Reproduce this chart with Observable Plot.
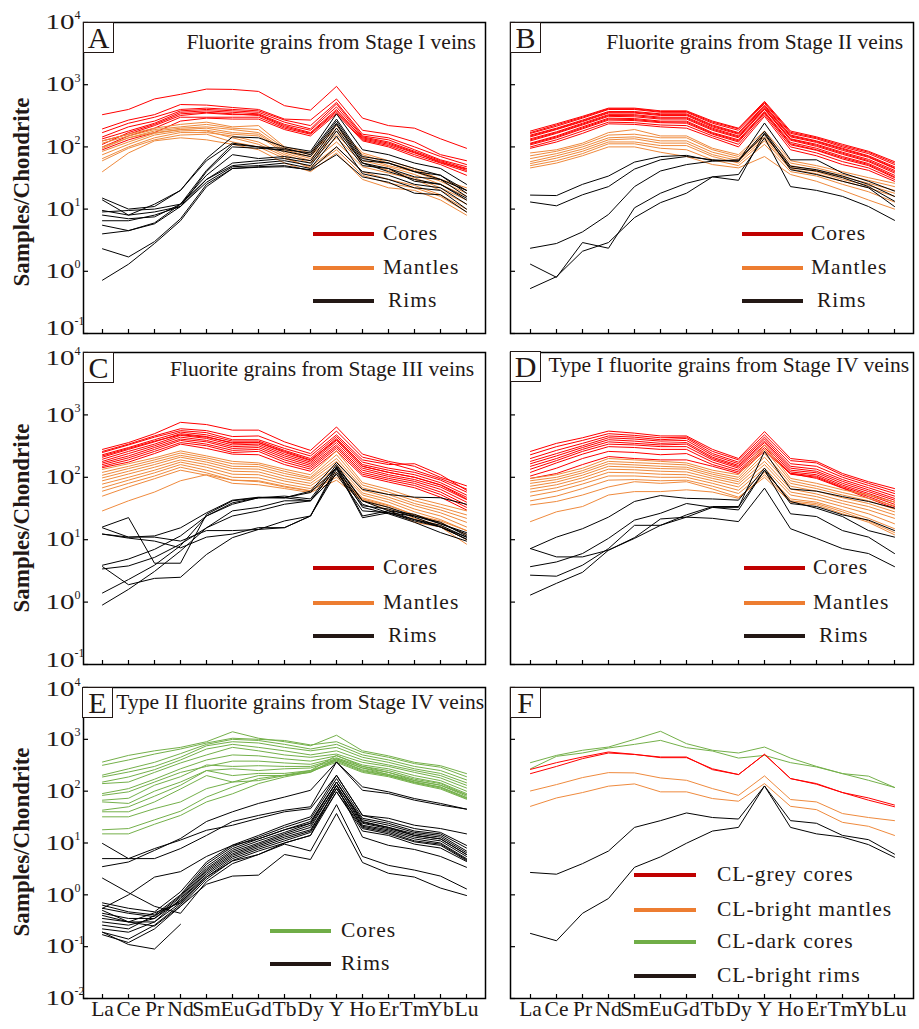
<!DOCTYPE html>
<html><head><meta charset="utf-8">
<script src="https://cdn.jsdelivr.net/npm/d3@7"></script>
<script src="https://cdn.jsdelivr.net/npm/@observablehq/plot@0.6"></script>
<style>
body{margin:0;background:#fff;}
#fig{position:relative;width:919px;height:1029px;background:#fff;font-family:"Liberation Serif","Times New Roman",serif;color:#231815;overflow:hidden}
#fig svg{position:absolute;background:transparent;overflow:visible}
.title{position:absolute;font-size:21.5px;line-height:21.5px;white-space:nowrap;}
.letter{position:absolute;width:31px;height:31px;border:1.2px solid #231815;box-sizing:border-box;font-size:30px;line-height:30px;text-align:center;background:#fff}
.leg{position:absolute;height:4px}
.legt{position:absolute;font-size:21.5px;line-height:21.5px;letter-spacing:1px;white-space:nowrap;transform:translateY(-50%)}
.ylab{position:absolute;font-size:23px;font-weight:bold;white-space:nowrap;transform:translate(-50%,-50%) rotate(-90deg)}
</style></head>
<body><div id="fig"></div>
<script>
const REE = ["La","Ce","Pr","Nd","Sm","Eu","Gd","Tb","Dy","Y","Ho","Er","Tm","Yb","Lu"];
const yTicksAD = [0.1, 1, 10, 100, 1000, 10000];
const yExpAD = ["-1", "0", "1", "2", "3", "4"];
const yTicksEF = [0.01, 0.1, 1, 10, 100, 1000, 10000];
const yExpEF = ["-2", "-1", "0", "1", "2", "3", "4"];

// ---------- Panel A ----------
const A_cores = [
[330,400,590,700,850,840,780,460,390,940,290,220,200,135,95],
[195,270,330,480,470,430,400,280,270,590,185,160,120,75,60],
[170,240,300,400,420,400,380,270,220,520,160,140,100,70,52],
[145,210,260,380,400,380,360,250,195,490,150,130,90,62,48],
[135,180,240,360,380,360,340,230,185,440,145,120,85,60,45],
[125,160,220,320,350,330,330,220,170,400,135,110,80,58,42],
[100,150,200,300,300,300,300,200,160,360,130,105,75,55,40],
[90,130,170,260,290,280,280,190,150,340,125,100,70,52,35],
[110,170,230,340,360,340,320,210,165,380,140,115,82,56,44]];
const A_mantles = [
[125,160,200,230,250,210,220,100,80,220,80,60,45,30,22],
[115,150,190,210,230,200,190,95,75,200,75,55,42,30,20],
[95,140,180,200,210,190,170,90,70,180,68,50,40,28,18],
[85,120,165,190,200,170,160,85,65,160,60,48,36,25,16],
[75,110,155,180,185,160,150,80,60,140,55,42,32,22,14],
[65,100,140,170,170,150,120,75,55,120,48,38,30,20,12],
[60,95,130,155,160,120,100,65,48,100,40,30,24,17,10],
[40,80,125,140,130,110,90,55,40,80,30,22,20,14,8],
[100,140,170,190,180,140,110,70,45,90,35,26,22,16,9]];
const A_rims = [
[15,10,11,20,65,145,140,100,85,340,90,75,55,45,25],
[9.5,8,12,20,60,115,100,95,75,260,65,55,40,30,20],
[9,9.5,10,12,42,110,100,85,70,240,60,55,40,35,18],
[8,7,7.5,12,35,75,65,70,60,230,55,45,33,30,16],
[6.5,6.5,8,11,30,55,60,65,55,200,55,40,30,25,15],
[5.5,4.5,6,12,30,50,55,60,50,180,50,45,28,25,14],
[4,4.5,5.8,11,27,48,50,55,45,150,37,30,22,20,10],
[2.3,1.7,3,7,25,45,48,50,42,75,33,27,18,17,9],
[0.72,1.3,2.8,6.5,23,45,47,48,43,100,40,35,25,22,12],
[14,8,9,11,40,100,95,90,80,280,70,60,45,35,20]];

// ---------- Panel B ----------
const B_cores = [
[180,235,310,420,420,380,380,260,200,540,180,145,110,85,58],
[165,215,290,400,400,360,360,240,185,500,165,135,100,78,52],
[155,200,270,370,370,340,340,225,170,470,155,125,95,72,48],
[145,190,255,350,350,320,320,210,160,440,145,118,88,68,45],
[135,175,240,330,330,300,300,200,150,420,135,110,82,63,42],
[125,165,225,310,305,280,280,185,140,400,128,102,76,58,38],
[115,150,210,290,285,260,260,170,130,370,118,95,70,54,35],
[108,140,195,270,265,245,240,160,120,350,108,88,64,50,32],
[100,130,180,250,245,225,220,150,110,330,100,80,58,46,30],
[95,120,165,235,230,210,200,140,100,310,90,72,52,42,28],
[170,225,300,410,410,370,370,250,195,520,172,140,105,82,55],
[150,195,262,360,360,330,330,218,165,455,150,122,92,70,46],
[130,170,232,320,318,290,290,192,145,410,132,106,79,60,40],
[112,145,202,280,275,252,250,165,125,360,112,90,67,52,33]];
const B_mantles = [
[80,90,115,170,190,150,150,95,75,180,60,50,40,32,26],
[72,85,108,155,160,140,140,90,70,160,55,46,36,29,23],
[65,78,100,140,145,125,125,82,65,145,50,42,33,26,20],
[58,72,92,130,135,115,115,75,60,135,47,40,30,24,18],
[54,66,85,120,120,105,105,70,55,125,44,37,28,22,16],
[50,60,78,112,112,95,90,62,50,110,40,34,25,19,13],
[46,55,72,100,100,82,70,52,46,70,36,28,20,14,10]];
const B_rims = [
[16.8,16.5,25,34,57,70,73,60,59,242,62,62,38,28,19.5],
[13,11.3,17,23,44,62,70,62,59,178,49,43,34,25,16],
[2.35,2.8,4.3,8.2,23,41,52,59,62,158,46,41,32,23,13.4],
[1.3,0.8,2.9,2.35,10.5,18,26,33,29,168,43,36,28,22,11],
[0.53,0.82,2.1,2.9,7.3,12.7,18,33,36,140,23,20,16,11,6.6]];

// ---------- Panel C ----------
const C_cores = [
[280,360,500,760,700,570,570,370,270,640,235,180,150,100,73],
[250,330,440,560,520,400,400,290,220,480,190,160,165,110,62],
[230,300,400,530,480,380,380,270,200,450,175,140,120,90,58],
[210,280,370,500,450,350,360,250,185,420,160,130,110,82,52],
[195,260,340,470,420,330,340,235,175,390,150,120,100,76,48],
[180,240,320,440,390,310,320,220,165,360,140,110,92,70,44],
[170,220,300,410,370,290,300,205,155,330,130,103,86,64,40],
[160,205,280,390,340,270,280,190,145,310,120,96,80,58,36],
[150,190,260,360,320,250,260,175,135,290,112,90,74,53,33],
[143,175,240,340,290,235,230,160,125,265,105,84,68,48,30],
[260,340,460,600,560,450,460,320,240,550,210,170,130,95,65],
[220,290,380,480,440,360,360,260,190,400,150,120,100,75,45]];
const C_mantles = [
[134,165,205,265,220,180,170,135,110,265,82,64,47,37,29],
[120,150,190,245,205,165,160,125,100,230,75,58,42,33,25],
[108,138,175,225,190,150,148,115,95,200,68,53,38,30,22],
[98,125,160,210,175,138,135,105,88,180,62,48,35,27,19],
[88,113,145,190,160,125,122,95,80,160,56,44,31,24,16],
[78,100,130,175,145,112,110,87,73,140,52,40,28,21,14],
[68,90,118,160,130,100,98,78,66,120,47,36,25,19,12],
[60,80,105,145,118,90,88,72,61,100,44,33,22,17,10],
[50,70,95,130,108,80,76,66,57,90,42,30,19,16,8.5],
[29,42,58,88,110,90,85,70,60,110,45,35,25,20,14]];
const C_rims = [
[16,22.6,4.2,4.2,25.5,42,47,47,57,143,24,29,21,16,11],
[12.3,10.6,9.5,7.4,11,12.3,15.6,15.6,24,150,42,29,25.5,18,12.3],
[15.5,11,11.5,15.5,27,43,48,47,60,173,64,53,48,47,37],
[3.9,4.9,7,11.5,24,39,47,50,45,160,42,33,24,18,13],
[3.4,3.8,5.2,8.5,15.5,24,29,37,42,143,37,27,21,17,11],
[3.7,1.9,2.4,2.5,5.8,10.8,14.6,15.6,24,120,35,31,23,16,10.2],
[1.4,2.3,3.9,8,24,37,47,47,42,112,29,27,20,16,10.2],
[0.9,1.6,3.1,6.6,15.5,29,33,42,42,143,33,26,19,13,9.5],
[12.3,11,11,9.5,14,14,14.6,20,24,135,22.5,27,24,19,11.5]];

// ---------- Panel D ----------
const D_cores = [
[260,350,430,550,510,460,460,280,200,540,200,180,115,85,66],
[230,310,390,500,470,430,440,260,190,480,185,170,108,80,60],
[200,270,350,460,440,400,420,240,175,440,165,150,100,74,55],
[180,240,320,430,410,380,390,225,165,410,150,135,92,68,50],
[165,220,300,400,380,350,360,210,155,380,140,125,86,63,46],
[150,200,280,370,350,330,340,200,148,360,130,118,80,59,43],
[135,185,260,340,330,310,310,190,140,330,122,110,75,55,40],
[120,170,235,310,300,280,280,175,130,300,116,104,71,52,37],
[105,140,200,260,250,230,240,160,122,280,112,100,68,49,34],
[96,115,160,215,200,190,190,150,115,260,115,96,67,46,32]];
const D_mantles = [
[96,110,140,200,190,180,170,130,110,330,96,80,63,52,40],
[88,100,128,180,172,165,158,120,100,280,88,72,57,46,35],
[80,92,118,165,158,150,145,112,92,240,80,66,52,42,31],
[72,84,108,150,145,138,135,104,85,210,72,60,47,38,28],
[65,76,98,135,132,125,122,96,78,180,65,54,42,34,25],
[58,68,88,120,118,112,110,88,70,160,58,49,38,30,22],
[50,60,78,105,105,100,100,80,62,140,52,44,34,26,18],
[42,50,66,90,92,88,90,72,55,120,45,40,30,22,15],
[36,41,52,70,85,80,85,65,48,100,40,36,26,19,12],
[19.5,28,34,52,59,59,63,58,46,110,42,38,28,20,13]];
const D_rims = [
[7.2,5.3,5.3,6.8,10.5,17,23,33,33,260,65,60,49,41,32],
[7.2,11,15,23,41,51,46,45,43,140,38,34,25,20.6,14],
[3.7,4.4,6,10.5,20.6,26.5,38,33,30,130,41,32,23.5,14,11],
[2.7,2.6,3.9,7.2,17,17,25,34,34,130,26,23.5,14,11,6],
[1.3,2,3,6.8,10.8,21.5,23,22,19.5,67,15,10.5,7.2,6,3.7]];

// ---------- Panel E ----------
const E_cores = [
[365,490,600,700,900,1400,1050,900,750,1200,600,480,360,310,218],
[316,400,520,650,850,1050,1000,950,780,900,560,450,340,290,190],
[204,270,360,530,800,1000,950,800,650,800,500,400,300,250,165],
[188,234,300,450,750,900,850,700,600,700,450,360,270,220,145],
[150,188,260,400,650,800,700,600,500,600,400,320,250,200,130],
[140,150,230,350,500,700,600,500,450,520,360,300,230,180,115],
[90,112,170,270,400,500,480,420,380,480,320,270,200,160,100],
[83,97,150,230,300,380,380,350,330,440,300,250,180,145,90],
[67,73,130,190,320,300,310,300,300,420,280,230,170,140,85],
[62,58,100,150,250,270,250,270,280,400,260,210,160,130,80],
[43,50,80,130,250,200,220,220,250,380,240,200,150,120,75],
[40,40,62,110,200,150,200,200,240,360,230,190,140,110,70],
[32,32,46,62,112,150,160,200,230,400,250,200,145,115,72],
[18,19,28,41,77,120,175,204,250,490,300,230,160,130,85],
[15,15,23,34,62,89,140,188,234,425,280,210,150,120,75]];
const E_rims = [
[3.5,4.3,7.2,12.2,26,40,58,77,104,365,121,97,72,58,45],
[5.0,5.0,5.0,7.8,14,26,34,43,50,365,104,90,67,54,45],
[9.8,5.0,7.8,11.4,17.6,22,30,40,46,203,34,30,22,19,15],
[0.70,0.55,0.47,1.14,4.3,9.1,14,22,32,203,34,26,19,16,9],
[0.63,0.47,0.41,1.0,3.9,8.5,13,20,29,175,30,24,17,15,8],
[0.55,0.44,0.38,0.95,3.5,7.8,12,18,26,150,28,22,16,14,7],
[0.44,0.35,0.35,0.9,3.2,7.2,11,16,24,150,26,20,15,13,6.5],
[0.35,0.30,0.30,0.84,3.0,6.7,10,15,22,130,24,19,14,12,6],
[0.30,0.26,0.35,0.78,2.8,6.2,9.4,14,20,130,22,18,13,11,5.5],
[0.26,0.22,0.40,0.75,2.6,5.8,8.8,13,18,112,21,17,12,10,5],
[0.22,0.19,0.30,0.70,2.4,5.4,8.2,12,17,112,20,16,11,9.5,4.8],
[0.19,0.14,0.26,0.65,2.2,5,7.6,11,16,97,19,15,10.5,9,4.6],
[0.17,0.12,0.22,0.60,2.0,4.6,7,10,14,97,17,14,9.5,8,4.4],
[2.1,1.1,0.6,0.44,1.8,4,6,10,14,130,13,9,7.5,5.5,3.4],
[0.19,0.11,0.09,0.27,null,null,null,null,null,null,null,null,null,null,null],
[0.5,0.3,0.25,0.6,1.6,2.3,2.4,6,4.8,37,4.2,2.6,2.2,1.35,0.97],
[0.4,0.3,0.45,0.7,2.2,4.5,6,9.5,7,55,5.5,3.7,3,2.3,1.3],
[0.55,1.0,2.2,2.8,5.5,9,12,18,24,150,25,20,14,12,6]];

// ---------- Panel F ----------
const F_darkCores = [
[355,490,615,710,1000,1430,825,615,545,710,435,300,218,195,118],
[270,470,545,680,800,955,690,595,435,490,355,293,218,162,118]];
const F_greyCores = [
[263,355,456,570,513,443,443,270,209,513,175,140,94,74,54],
[218,300,424,545,510,456,456,260,209,513,175,136,94,67,50]];
const F_brightMantles = [
[101,134,183,228,225,180,162,112,83,197,69,62,37,31,27],
[51,74,94,125,138,97,97,72,64,140,51,44,25,21,14]];
const F_brightRims = [
[2.7,2.5,4.0,7.0,20,27,38,31,29,126,27,24,14,11.6,6.1],
[0.18,0.13,0.44,0.85,3.4,5.4,9.9,17,20,126,20,15,13,9.3,5.3]];

const RED = "#ff0000", ORANGE = "#ef8a3d", BLACK = "#000000", GREEN = "#74b04a";
const LRED = "#c00000", LORANGE = "#ed7d31", LBLACK = "#231815", LGREEN = "#70ad47";
const SERIF = '"Liberation Serif","Times New Roman",serif';
const fig = document.getElementById("fig");

function rowsOf(series, key) {
  const rows = [];
  series.forEach((s, si) => s.forEach((v, i) => {
    if (v != null) rows.push({el: REE[i], v, id: key + si});
  }));
  return rows;
}

function panel({fx, fy, fw, fh, dom, ticks, exps, groups, yLabels, xLabels, labelShift}) {
  const ml = fx < 300 ? 83 : 20, mr = 6, mt = 20, mb = 40;
  const marks = [
    Plot.tickY(ticks, {y: d => d, insetRight: fw - 5, stroke: "#000", strokeWidth: 1.2}),
    Plot.tickX(REE, {x: d => d, insetTop: fh - 4, stroke: "#000", strokeWidth: 1.2})
  ];
  groups.forEach((g, gi) => {
    marks.push(Plot.line(rowsOf(g.series, "g" + gi + "_"), {x: "el", y: "v", z: "id", stroke: g.color, strokeWidth: 1}));
  });
  marks.push(Plot.frame({stroke: "#000", strokeWidth: 1.5}));
  if (yLabels) {
    ticks.forEach((t, i) => {
      const s = labelShift ? labelShift[i] : 0;
      marks.push(Plot.text([t], {y: d => d, text: () => "10", frameAnchor: "left", textAnchor: "end", dx: -9, dy: s, fontSize: 21, fill: "#231815"}));
      marks.push(Plot.text([t], {y: d => d, text: () => exps[i], frameAnchor: "left", textAnchor: "start", dx: -9, dy: s - 7, fontSize: 12, fill: "#231815"}));
    });
  }
  if (xLabels) {
    marks.push(Plot.text(REE, {x: d => d, text: d => d, frameAnchor: "bottom", dy: 17, fontSize: 21.5, fill: "#231815"}));
  }
  const svg = Plot.plot({
    width: ml + fw + mr, height: mt + fh + mb,
    marginLeft: ml, marginRight: mr, marginTop: mt, marginBottom: mb,
    x: {type: "point", domain: REE, padding: 0.5, axis: null},
    y: {type: "log", domain: dom, axis: null},
    style: {background: "transparent", overflow: "visible", fontFamily: SERIF},
    marks
  });
  svg.style.left = (fx - ml) + "px";
  svg.style.top = (fy - mt) + "px";
  fig.appendChild(svg);
  // widen the "10" of the tick labels like the reference's stretched digits
  d3.select(svg).selectAll("text").filter(function() { return this.textContent === "10"; })
    .attr("textLength", 29).attr("lengthAdjust", "spacingAndGlyphs");
}

function el(cls, css, text) {
  const d = document.createElement("div");
  d.className = cls;
  Object.assign(d.style, css);
  if (text != null) d.textContent = text;
  fig.appendChild(d);
  return d;
}
function legend(x1, x2, items) {
  items.forEach(it => {
    el("leg", {left: x1 + "px", width: (x2 - x1) + "px", top: (it.y - 2) + "px", background: it.color});
    el("legt", {left: it.tx + "px", top: it.y + "px"}, it.label);
  });
}

panel({fx: 83, fy: 22, fw: 402, fh: 311, dom: [0.1, 1e4], ticks: yTicksAD, exps: yExpAD, yLabels: true, labelShift: [-5, 0, 0, 0, 0, 0],
  groups: [{series: A_cores, color: RED}, {series: A_mantles, color: ORANGE}, {series: A_rims, color: BLACK}]});
panel({fx: 510, fy: 22, fw: 403, fh: 311, dom: [0.1, 1e4], ticks: yTicksAD, exps: yExpAD,
  groups: [{series: B_mantles, color: ORANGE}, {series: B_cores, color: RED}, {series: B_rims, color: BLACK}]});
panel({fx: 83, fy: 352, fw: 402, fh: 312, dom: [0.1, 1e4], ticks: yTicksAD, exps: yExpAD, yLabels: true, labelShift: [-4, 0, 0, 0, 0, 6],
  groups: [{series: C_cores, color: RED}, {series: C_mantles, color: ORANGE}, {series: C_rims, color: BLACK}]});
panel({fx: 510, fy: 352, fw: 403, fh: 312, dom: [0.1, 1e4], ticks: yTicksAD, exps: yExpAD,
  groups: [{series: D_cores, color: RED}, {series: D_mantles, color: ORANGE}, {series: D_rims, color: BLACK}]});
panel({fx: 83, fy: 687, fw: 402, fh: 311, dom: [0.01, 1e4], ticks: yTicksEF, exps: yExpEF, yLabels: true, xLabels: true, labelShift: [0, 0, 0, 0, 0, 0, 2],
  groups: [{series: E_cores, color: GREEN}, {series: E_rims, color: BLACK}]});
panel({fx: 510, fy: 687, fw: 403, fh: 311, dom: [0.01, 1e4], ticks: yTicksEF, exps: yExpEF, xLabels: true,
  groups: [{series: F_darkCores, color: GREEN}, {series: F_greyCores, color: RED}, {series: F_brightMantles, color: ORANGE}, {series: F_brightRims, color: BLACK}]});

// y-axis titles
[192, 518, 842].forEach(cy => el("ylab", {left: "22px", top: cy + "px"}, "Samples/Chondrite"));

// panel letters
[["A", 83, 22], ["B", 510, 22], ["C", 83, 352], ["D", 510, 351], ["E", 82, 687], ["F", 510, 687]]
  .forEach(([t, x, y]) => el("letter", {left: x + "px", top: y + "px"}, t));

// panel titles (right edges)
[["Fluorite grains from Stage I veins", 476, 32],
 ["Fluorite grains from Stage II veins", 903, 32],
 ["Fluorite grains from Stage III veins", 474, 359],
 ["Type I fluorite grains from Stage IV veins", 909, 355],
 ["Type II fluorite grains from Stage IV veins", 484, 692]]
  .forEach(([t, r, y]) => el("title", {right: (919 - r) + "px", top: y + "px"}, t));

// legends
legend(313, 374, [{label: "Cores", color: LRED, y: 234, tx: 383}, {label: "Mantles", color: LORANGE, y: 268, tx: 383}, {label: "Rims", color: LBLACK, y: 301, tx: 388}]);
legend(742, 803, [{label: "Cores", color: LRED, y: 234, tx: 811}, {label: "Mantles", color: LORANGE, y: 268, tx: 811}, {label: "Rims", color: LBLACK, y: 301, tx: 817}]);
legend(313, 374, [{label: "Cores", color: LRED, y: 568, tx: 383}, {label: "Mantles", color: LORANGE, y: 603, tx: 383}, {label: "Rims", color: LBLACK, y: 636, tx: 388}]);
legend(744, 805, [{label: "Cores", color: LRED, y: 568, tx: 813}, {label: "Mantles", color: LORANGE, y: 603, tx: 813}, {label: "Rims", color: LBLACK, y: 636, tx: 819}]);
legend(270, 331, [{label: "Cores", color: LGREEN, y: 931, tx: 341}, {label: "Rims", color: LBLACK, y: 964, tx: 341}]);
legend(634, 696, [{label: "CL-grey cores", color: LRED, y: 875, tx: 717}, {label: "CL-bright mantles", color: LORANGE, y: 910, tx: 717}, {label: "CL-dark cores", color: LGREEN, y: 942, tx: 717}, {label: "CL-bright rims", color: LBLACK, y: 976, tx: 717}]);
</script></body></html>
